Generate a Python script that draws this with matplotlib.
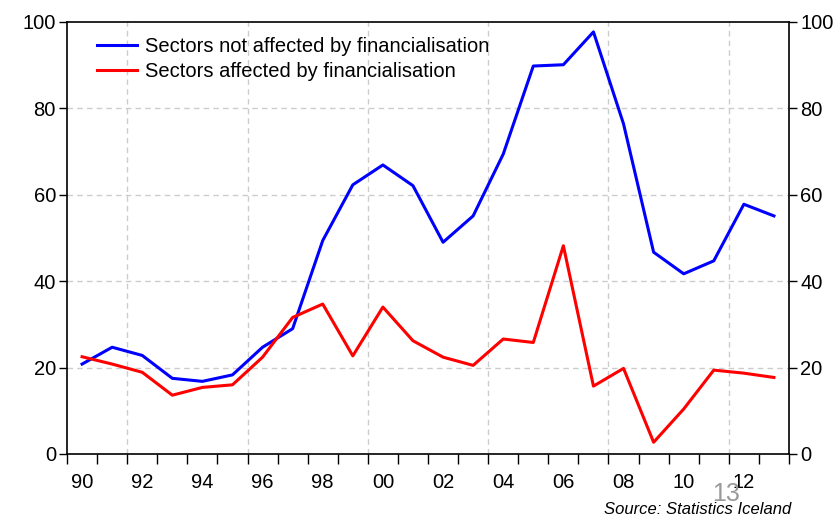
import matplotlib
matplotlib.use('Agg')
import matplotlib.pyplot as plt
import numpy as np

plt.rcParams['font.family'] = ['Liberation Sans', 'DejaVu Sans']

# anni e serie
years = np.arange(1990, 2014)
not_affected = [20.8, 24.7, 22.8, 17.5, 16.8, 18.3, 24.7, 29.0, 49.4, 62.3,
                66.9, 62.1, 49.0, 55.1, 69.4, 89.8, 90.1, 97.7, 76.4, 46.7,
                41.7, 44.7, 57.8, 55.1]
affected = [22.5, 20.8, 18.9, 13.6, 15.4, 16.0, 22.4, 31.6, 34.7, 22.7,
            34.0, 26.2, 22.4, 20.5, 26.6, 25.8, 48.2, 15.7, 19.8, 2.7,
            10.4, 19.4, 18.7, 17.7]
labels_not = 'Sectors not affected by financialisation'
labels_aff = 'Sectors affected by financialisation'
tick_labels = ['90', '92', '94', '96', '98', '00', '02', '04', '06', '08', '10', '12']

fig = plt.figure(figsize=(8.38, 5.17), dpi=100)
ax = fig.add_axes([0.080, 0.122, 0.8615, 0.8355])

ax.plot(years + 0.5, not_affected, color='#0000ff', lw=2.2, label=labels_not)
ax.plot(years + 0.5, affected, color='#ff0000', lw=2.2, label=labels_aff)

ax.set_xlim(1990, 2014)
ax.set_ylim(0, 100)

# tacche ad ogni anno, etichette al centro degli anni pari
ax.set_xticks(np.arange(1990, 2015))
ax.set_xticklabels([])
ax.set_xticks(np.arange(1990, 2014, 2) + 0.5, minor=True)
ax.set_xticklabels(tick_labels, minor=True)
ax.tick_params(axis='x', which='major', direction='out', length=7, width=1)
ax.tick_params(axis='x', which='minor', length=0, pad=14, labelsize=14.5)

ax.set_yticks([0, 20, 40, 60, 80, 100])
ax.tick_params(axis='y', direction='out', length=6, width=1, labelsize=14.5,
               right=True, labelright=True, pad=2)

# griglia tratteggiata
for g in [20, 40, 60, 80]:
    ax.axhline(g, color='#cccccc', lw=1, ls=(0, (4, 3)), zorder=0)
for g in range(1992, 2014, 4):
    ax.axvline(g, color='#cccccc', lw=1, ls=(0, (4, 3)), zorder=0)

for s in ax.spines.values():
    s.set_linewidth(1.2)

ax.legend(loc='upper left', bbox_to_anchor=(0.022, 0.997), frameon=False,
          fontsize=14.5, handlelength=2.0, handletextpad=0.4, labelspacing=0.3,
          borderaxespad=0.3)

fig.text(0.866, 0.031, '13', color='#999999', fontsize=18, ha='center')
fig.text(0.944, 0.005, 'Source: Statistics Iceland', fontsize=12,
         style='italic', ha='right')

plt.savefig('out.png', dpi=100)
